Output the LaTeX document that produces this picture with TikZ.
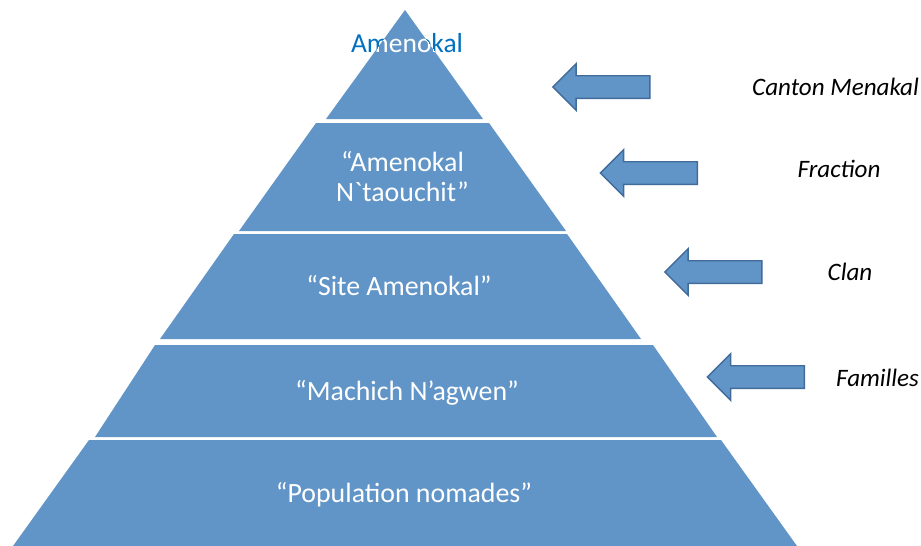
\documentclass[tikz,border=0pt]{standalone}
\usepackage{fontspec}
\setmainfont{Carlito}[Ligatures=TeXOff]
\usetikzlibrary{shapes.arrows}
\definecolor{layerblue}{RGB}{97,149,199}
\definecolor{arrowedge}{RGB}{65,107,153}
\definecolor{titleblue}{RGB}{0,112,192}

\begin{document}
\begin{tikzpicture}[x=0.75pt,y=-0.75pt,
        layer/.style={fill=layerblue, draw=none},
        layertext/.style={text=white, font=\fontsize{20.9}{22.5}\selectfont, align=center, inner sep=0pt},
        leftarrow/.style={single arrow, shape border rotate=180, fill=layerblue, draw=arrowedge, line width=1.1pt,
            minimum height=72.75pt, inner xsep=0pt, inner ysep=7.9pt, single arrow head extend=9pt, single arrow head indent=0pt},
        levellabel/.style={font=\fontsize{18.8}{21}\selectfont\itshape, inner sep=0pt}]
        \useasboundingbox (0,0) rectangle (921,546);
        % title behind the top layer
        \node[text=titleblue, font=\fontsize{20.6}{22.5}\selectfont, inner sep=0pt, anchor=base] (titleout) at (407,52) {Amenokal};
        % the five layers
        \path[layer] (405,10) -- (483,119) -- (326,119) -- cycle;
        \path[layer] (316,123) -- (489,123) -- (566,231) -- (239,231) -- cycle;
        \path[layer] (234,234) -- (567,234) -- (641,339) -- (160,339) -- cycle;
        \path[layer] (155,345) -- (653,345) -- (717,437) -- (95,437) -- cycle;
        \path[layer] (89,440) -- (721,440) -- (797,546) -- (13,546) -- cycle;
        \begin{scope}
            \clip (405,10) -- (483,119) -- (326,119) -- cycle;
            \node[text=white, font=\fontsize{20.6}{22.5}\selectfont, inner sep=0pt, anchor=base] (titlein) at (407,52) {Amenokal};
        \end{scope}
        \node[layertext] (fractiontext) at (402.5,177) {“Amenokal\\N`taouchit”};
        \node[layertext, anchor=base] (clantext) at (399,295) {“Site Amenokal”};
        \node[layertext, anchor=base] (familytext) at (407,400) {“Machich N’agwen”};
        \node[layertext, anchor=base] (nomadtext) at (404,502) {“Population nomades”};
        % arrows and level names
        \node[leftarrow] (arrowcanton) at (607,87) {};
        \node[leftarrow] (arrowfraction) at (654.5,173) {};
        \node[leftarrow] (arrowclan) at (719,272) {};
        \node[leftarrow] (arrowfamily) at (761.5,377) {};
        \node[levellabel, anchor=base] (canton) at (835.5,95) {Canton Menakal};
        \node[levellabel, anchor=base] (fraction) at (839,177.5) {Fraction};
        \node[levellabel, anchor=base] (clan) at (850,280) {Clan};
        \node[levellabel, anchor=base] (familles) at (877.5,386.5) {Familles};
\end{tikzpicture}
\end{document}
